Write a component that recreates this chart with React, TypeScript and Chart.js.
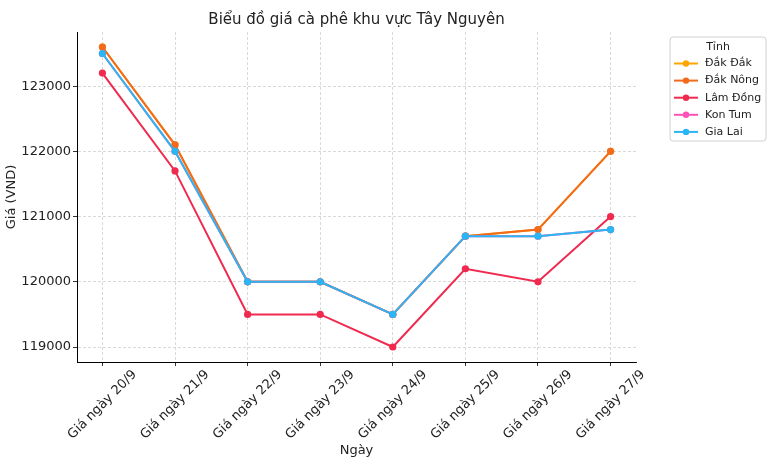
import React, { useEffect, useRef } from "react";
import { Chart, registerables } from "chart.js";

Chart.register(...registerables);

const categories = [
  "Giá ngày 20/9",
  "Giá ngày 21/9",
  "Giá ngày 22/9",
  "Giá ngày 23/9",
  "Giá ngày 24/9",
  "Giá ngày 25/9",
  "Giá ngày 26/9",
  "Giá ngày 27/9",
];

const dakDak = [123600, 122100, 120000, 120000, 119500, 120700, 120800, 122000];
const dakNong = [123600, 122100, 120000, 120000, 119500, 120700, 120800, 122000];
const lamDong = [123200, 121700, 119500, 119500, 119000, 120200, 120000, 121000];
const konTum = [123500, 122000, 120000, 120000, 119500, 120700, 120700, 120800];
const giaLai = [123500, 122000, 120000, 120000, 119500, 120700, 120700, 120800];

const seriesNames = ["Đắk Đắk", "Đắk Nông", "Lâm Đồng", "Kon Tum", "Gia Lai"];
const seriesValues = [dakDak, dakNong, lamDong, konTum, giaLai];
const seriesColors = ["#FFA500", "#F26A1B", "#EF2A4E", "#FF52B6", "#2AB5F3"];

const yTicks = [119000, 120000, 121000, 122000, 123000];

const chartTitle = "Biểu đồ giá cà phê khu vực Tây Nguyên";
const xTitle = "Ngày";
const yTitle = "Giá (VND)";
const legendTitle = "Tỉnh";

const FONT = "'DejaVu Sans', sans-serif";
const TEXT = "#222";

const overlayPlugin = {
  id: "overlay",
  afterDraw(chart: any) {
    const ctx = chart.ctx;
    const ca = chart.chartArea;
    ctx.save();
    // title
    ctx.fillStyle = TEXT;
    ctx.font = `15px ${FONT}`;
    ctx.textAlign = "center";
    ctx.textBaseline = "middle";
    ctx.fillText(chartTitle, (ca.left + ca.right) / 2, 20);

    // x tick labels, rotated 45°, centred on tick (matplotlib ha=center)
    const xs = chart.scales.x;
    ctx.font = `13px ${FONT}`;
    ctx.fillStyle = TEXT;
    categories.forEach((lab, i) => {
      const px = xs.getPixelForValue(i);
      const w = ctx.measureText(lab).width;
      const ext = (w + 10) / Math.SQRT2;
      const cy = ca.bottom + 7 + ext / 2;
      ctx.save();
      ctx.translate(px, cy);
      ctx.rotate(-Math.PI / 4);
      ctx.textAlign = "center";
      ctx.textBaseline = "middle";
      ctx.fillText(lab, 0, 0);
      ctx.restore();
    });

    // x axis title
    ctx.font = `13px ${FONT}`;
    ctx.textAlign = "center";
    ctx.textBaseline = "middle";
    ctx.fillText(xTitle, (ca.left + ca.right) / 2, 451);

    // legend
    const bx = 670, by = 37, bw = 96, bh = 104;
    ctx.beginPath();
    const r = 3;
    ctx.moveTo(bx + r, by);
    ctx.lineTo(bx + bw - r, by);
    ctx.quadraticCurveTo(bx + bw, by, bx + bw, by + r);
    ctx.lineTo(bx + bw, by + bh - r);
    ctx.quadraticCurveTo(bx + bw, by + bh, bx + bw - r, by + bh);
    ctx.lineTo(bx + r, by + bh);
    ctx.quadraticCurveTo(bx, by + bh, bx, by + bh - r);
    ctx.lineTo(bx, by + r);
    ctx.quadraticCurveTo(bx, by, bx + r, by);
    ctx.closePath();
    ctx.fillStyle = "rgba(255,255,255,0.85)";
    ctx.fill();
    ctx.strokeStyle = "#d0d0d0";
    ctx.lineWidth = 1;
    ctx.stroke();

    ctx.font = `11px ${FONT}`;
    ctx.fillStyle = TEXT;
    ctx.textAlign = "center";
    ctx.textBaseline = "middle";
    ctx.fillText(legendTitle, bx + bw / 2, 47);
    ctx.textAlign = "left";
    seriesNames.forEach((name, i) => {
      const y = 63.5 + i * 17.1;
      ctx.strokeStyle = seriesColors[i];
      ctx.lineWidth = 2;
      ctx.beginPath();
      ctx.moveTo(674, y);
      ctx.lineTo(698, y);
      ctx.stroke();
      ctx.fillStyle = seriesColors[i];
      ctx.beginPath();
      ctx.arc(686, y, 3.2, 0, Math.PI * 2);
      ctx.fill();
      ctx.fillStyle = TEXT;
      ctx.fillText(name, 705, y);
    });
    ctx.restore();
  },
};

export default function App() {
  const ref = useRef<HTMLCanvasElement>(null);
  useEffect(() => {
    if (!ref.current) return;
    const n = seriesNames.length;
    const chart = new Chart(ref.current, {
      type: "line",
      data: {
        datasets: seriesNames.map((name, i) => ({
          label: name,
          data: seriesValues[i].map((v, j) => ({ x: j, y: v })),
          borderColor: seriesColors[i],
          backgroundColor: seriesColors[i],
          borderWidth: 2,
          pointRadius: 3.6,
          pointBorderWidth: 0,
          pointHoverRadius: 3.6,
          tension: 0,
          order: n - 1 - i,
        })),
      },
      options: {
        animation: false,
        responsive: false,
        layout: { padding: { top: 32, right: 134, bottom: 0, left: 0 } },
        plugins: {
          legend: { display: false },
          title: { display: false },
          tooltip: { enabled: false },
        },
        scales: {
          x: {
            type: "linear",
            min: -0.35,
            max: 7.35,
            afterBuildTicks: (scale: any) => {
              scale.ticks = categories.map((_, i) => ({ value: i }));
            },
            afterFit: (scale: any) => {
              scale.height = 106;
            },
            ticks: {
              display: false,
              autoSkip: false,
              maxRotation: 0,
              callback: (v: any) => categories[v] ?? "",
            },
            grid: {
              color: "#cfcfcf",
              tickBorderDash: [],
              tickColor: "#000",
              tickLength: 4,
              lineWidth: 0.8,
            },
            border: { display: true, color: "#000", width: 1, dash: [3, 2] },
            title: { display: false, text: xTitle },
          },
          y: {
            type: "linear",
            min: 118770,
            max: 123830,
            afterBuildTicks: (scale: any) => {
              scale.ticks = yTicks.map((v) => ({ value: v }));
            },
            afterFit: (scale: any) => {
              scale.width = 77;
            },
            ticks: {
              padding: 2,
              color: TEXT,
              font: { family: FONT, size: 13 },
              callback: (v: any) => String(v),
            },
            grid: {
              color: "#cfcfcf",
              tickBorderDash: [],
              tickColor: "#000",
              tickLength: 4,
              lineWidth: 0.8,
            },
            border: { display: true, color: "#000", width: 1, dash: [3, 2] },
            title: {
              display: true,
              text: yTitle,
              color: TEXT,
              font: { family: FONT, size: 13 },
              padding: { top: 4, bottom: 0 },
            },
          },
        },
      },
      plugins: [overlayPlugin],
    } as any);
    return () => chart.destroy();
  }, []);
  return (
    <div style={{ position: "absolute", left: 0, top: 0, width: 770, height: 468, background: "#fff" }}>
      <canvas ref={ref} width={770} height={468} />
    </div>
  );
}
